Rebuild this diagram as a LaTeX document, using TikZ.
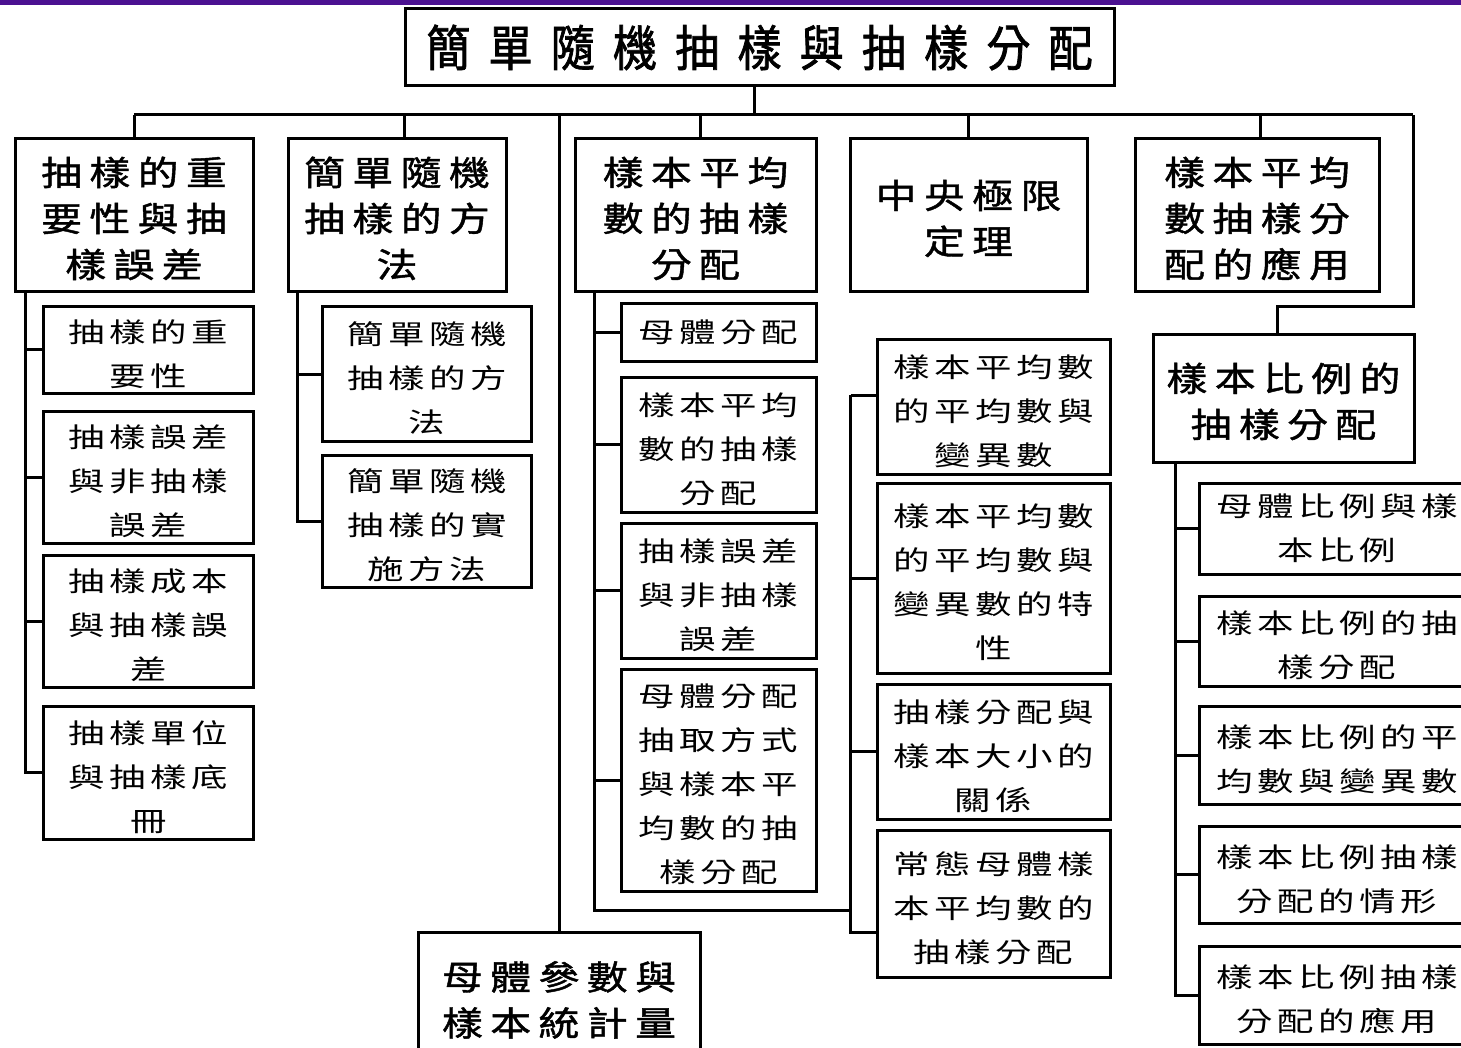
\documentclass[tikz,border=0pt]{standalone}
\usepackage{fontspec}
\newfontfamily\cjkt[FakeStretch=0.9,LetterSpace=37,FakeBold=1.5]{Noto Sans CJK TC}
\newfontfamily\cjkm[FakeStretch=1.2,LetterSpace=22,FakeBold=1.3]{Noto Sans CJK TC}
\newfontfamily\cjkc[FakeStretch=1.35,LetterSpace=17]{Noto Sans CJK TC}
\definecolor{band}{RGB}{75,17,145}
\newcommand\fls{\rule{0pt}{31.5pt}}
\newcommand\flm{\rule{0pt}{34.5pt}}
\tikzset{
  conn/.style={line width=3pt},
  bx/.style={draw, line width=3pt, inner sep=0pt, align=center, fill=white},
  titlebox/.style={bx, font={\cjkt\fontsize{49}{52}\selectfont}},
  mainbox/.style={bx, font={\cjkm\fontsize{34}{46}\selectfont}},
  subbox/.style={bx, font={\cjkc\fontsize{27}{44}\selectfont}},
}
\begin{document}
\begin{tikzpicture}[x=1pt,y=-1pt]
\useasboundingbox (0,0) rectangle (1461,1048);
\fill[white] (0,0) rectangle (1461,1048);
\fill[band] (0,0) rectangle (1461,5.5);

% title and main topics
\node[titlebox, minimum width=709pt, minimum height=77pt] (title) at (759.5,47.5) {簡單隨機抽樣與抽樣分配};
\node[mainbox, minimum width=238pt, minimum height=153pt] (b1) at (134,215.5) {\flm 抽樣的重\\要性與抽\\樣誤差};
\node[mainbox, minimum width=218pt, minimum height=153pt] (b2) at (397,215.5) {\flm 簡單隨機\\抽樣的方\\法};
\node[mainbox, minimum width=241pt, minimum height=153pt] (b3) at (695.5,215.5) {\flm 樣本平均\\數的抽樣\\分配};
\node[mainbox, minimum width=237pt, minimum height=153pt] (b4) at (968.5,215.5) {\flm 中央極限\\定理};
\node[mainbox, minimum width=244pt, minimum height=153pt] (b5) at (1257,215.5) {\flm 樣本平均\\數抽樣分\\配的應用};
\node[mainbox, minimum width=261pt, minimum height=127pt] (b6) at (1283.5,398.5) {\flm 樣本比例的\\抽樣分配};
\node[mainbox, minimum width=282pt, minimum height=130pt] (b7) at (559,997) {\flm 母體參數與\\樣本統計量};

% group 1
\node[subbox, minimum width=210pt, minimum height=86pt]  (c11) at (148.5,350) {\fls 抽樣的重\\要性};
\node[subbox, minimum width=210pt, minimum height=132pt] (c12) at (148.5,477) {\fls 抽樣誤差\\與非抽樣\\誤差};
\node[subbox, minimum width=210pt, minimum height=132pt] (c13) at (148.5,621) {\fls 抽樣成本\\與抽樣誤\\差};
\node[subbox, minimum width=210pt, minimum height=133pt] (c14) at (148.5,772.5) {\fls 抽樣單位\\與抽樣底\\冊};
% group 2
\node[subbox, minimum width=209pt, minimum height=134pt] (c21) at (427,374) {\fls 簡單隨機\\抽樣的方\\法};
\node[subbox, minimum width=209pt, minimum height=132pt] (c22) at (427,521) {\fls 簡單隨機\\抽樣的實\\施方法};
% group 3
\node[subbox, minimum width=195pt, minimum height=57pt]  (c31) at (718.5,332.5) {母體分配};
\node[subbox, minimum width=195pt, minimum height=135pt] (c32) at (718.5,444.5) {\fls 樣本平均\\數的抽樣\\分配};
\node[subbox, minimum width=195pt, minimum height=135pt] (c33) at (718.5,590.5) {\fls 抽樣誤差\\與非抽樣\\誤差};
\node[subbox, minimum width=195pt, minimum height=222pt] (c34) at (718.5,780) {\fls 母體分配\\抽取方式\\與樣本平\\均數的抽\\樣分配};
% group 4
\node[subbox, minimum width=233pt, minimum height=134pt] (c41) at (993.5,407) {\fls 樣本平均數\\的平均數與\\變異數};
\node[subbox, minimum width=233pt, minimum height=190pt] (c42) at (993.5,578) {\fls 樣本平均數\\的平均數與\\變異數的特\\性};
\node[subbox, minimum width=233pt, minimum height=135pt] (c43) at (993.5,751.5) {\fls 抽樣分配與\\樣本大小的\\關係};
\node[subbox, minimum width=233pt, minimum height=147pt] (c44) at (993.5,903.5) {\fls 常態母體樣\\本平均數的\\抽樣分配};
% group 6
\node[subbox, minimum width=276pt, minimum height=91pt] (c61) at (1337,528.5) {母體比例與樣\\本比例};
\node[subbox, minimum width=276pt, minimum height=90pt] (c62) at (1337,641) {\fls 樣本比例的抽\\樣分配};
\node[subbox, minimum width=276pt, minimum height=98pt] (c63) at (1337,755) {\fls 樣本比例的平\\均數與變異數};
\node[subbox, minimum width=276pt, minimum height=97pt] (c64) at (1337,874.5) {\fls 樣本比例抽樣\\分配的情形};
\node[subbox, minimum width=276pt, minimum height=98pt] (c65) at (1337,995) {\fls 樣本比例抽樣\\分配的應用};

% top level connectors
\coordinate (bar) at (0,115);
\coordinate (barR) at (1413,115);
\coordinate (elbow) at (1413,307);
\draw[conn] ([xshift=-5pt]title.south) -- ++(0,28);
\draw[conn] (b1.north |- bar) -- (barR);
\draw[conn] (b1.north |- bar) -- (b1.north);
\draw[conn] ([xshift=7pt]b2.north) -- ++(0,-24);
\draw[conn] ([xshift=4.5pt]b3.north) -- ++(0,-24);
\draw[conn] (b4.north) -- ++(0,-24);
\draw[conn] ([xshift=3pt]b5.north) -- ++(0,-24);
\draw[conn] (b7.north |- bar) -- (b7.north);
\draw[conn] (barR) -- (elbow) -| ([xshift=-6.5pt]b6.north);

% group 1 connectors
\coordinate (t1) at ([xshift=12pt]b1.south west);
\draw[conn] (t1) |- (c14.west);
\foreach \c in {c11,c12,c13} \draw[conn] (t1 |- \c.west) -- (\c.west);
% group 2 connectors
\coordinate (t2) at ([xshift=11pt]b2.south west);
\draw[conn] (t2) |- (c22.west);
\draw[conn] (t2 |- c21.west) -- (c21.west);
% group 3 and 4 connectors
\coordinate (t3) at ([xshift=21pt]b3.south west);
\coordinate (t4) at ([xshift=-25pt,yshift=12pt]c41.west);
\coordinate (j) at (t4 |- 0,910);
\draw[conn] (t3) |- (j);
\foreach \c in {c31,c32,c33,c34} \draw[conn] (t3 |- \c.west) -- (\c.west);
\draw[conn] (t4) -- ([yshift=12pt]c41.west);
\draw[conn] (t4) |- ([yshift=-28.5pt]c44.west);
\foreach \c in {c42,c43} \draw[conn] (t4 |- \c.west) -- (\c.west);
% group 6 connectors
\coordinate (t6) at ([xshift=24pt]b6.south west);
\draw[conn] (t6) |- (c65.west);
\foreach \c in {c61,c62,c63,c64} \draw[conn] (t6 |- \c.west) -- (\c.west);
\end{tikzpicture}
\end{document}
